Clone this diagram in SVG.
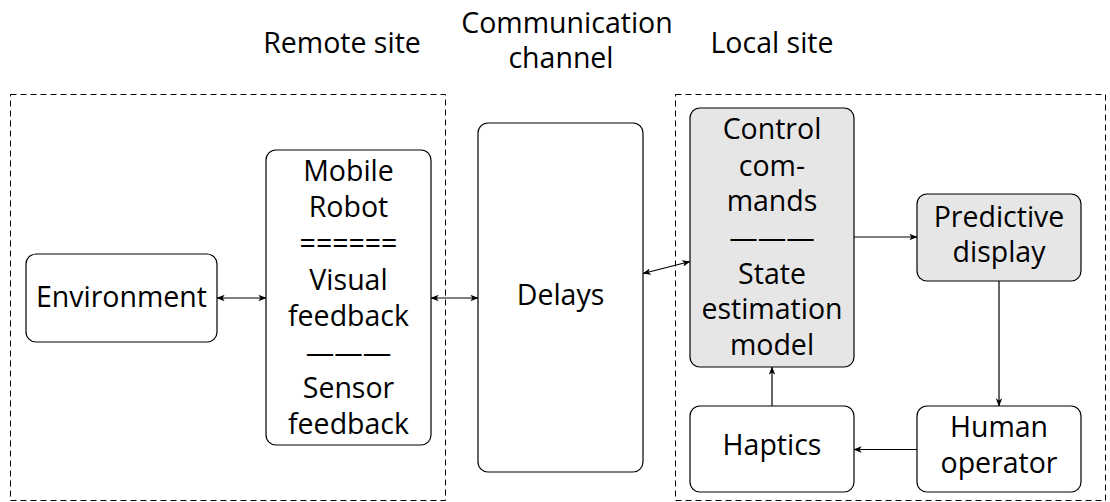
<svg xmlns="http://www.w3.org/2000/svg" width="1110" height="502" viewBox="0 0 1110 502">
  <style>
    text { font-family: "Open Sans", "Noto Sans", sans-serif; font-size: 28.5px; fill: #000; text-anchor: middle; }
    .site { fill: none; stroke: #000; stroke-width: 1; stroke-dasharray: 6 4; }
    .box { fill: #fff; stroke: #000; stroke-width: 1.2; }
    .grey { fill: #e6e6e6; }
    .edge { fill: none; stroke: #000; stroke-width: 1.2; }
  </style>
  <defs>
    <marker id="arr" viewBox="0 0 10 8" refX="9.5" refY="4" markerWidth="8" markerHeight="6.4" markerUnits="userSpaceOnUse" orient="auto-start-reverse">
      <path d="M0,0 L10,4 L0,8 L2.5,4 Z" fill="#000"/>
    </marker>
  </defs>

  <!-- region labels -->
  <g id="labels">
    <text x="342" y="53">Remote site</text>
    <text x="567" y="33">Communication</text>
    <text x="561" y="68">channel</text>
    <text x="772" y="53">Local site</text>
  </g>

  <!-- dashed site frames -->
  <rect class="site" x="10.5" y="94.5" width="435" height="406"/>
  <rect class="site" x="675.5" y="94.5" width="430" height="406"/>

  <g id="environment">
    <rect class="box" x="26" y="254" width="191" height="88" rx="10"/>
    <text x="121.5" y="307">Environment</text>
  </g>

  <g id="robot">
    <rect class="box" x="266" y="150" width="165" height="295" rx="10"/>
    <text x="348.5" y="181">Mobile</text>
    <text x="348.5" y="217">Robot</text>
    <text x="348.5" y="253">======</text>
    <text x="348.5" y="290">Visual</text>
    <text x="348.5" y="326">feedback</text>
    <text x="348.5" y="363">———</text>
    <text x="348.5" y="398">Sensor</text>
    <text x="348.5" y="434">feedback</text>
  </g>

  <g id="delays">
    <rect class="box" x="478" y="123" width="165" height="349" rx="10"/>
    <text x="560.5" y="305">Delays</text>
  </g>

  <g id="control">
    <rect class="box grey" x="690" y="108" width="164" height="259" rx="10"/>
    <text x="772" y="139">Control</text>
    <text x="772" y="176">com-</text>
    <text x="772" y="211">mands</text>
    <text x="772" y="248">———</text>
    <text x="772" y="284">State</text>
    <text x="772" y="319">estimation</text>
    <text x="772" y="355">model</text>
  </g>

  <g id="predictive">
    <rect class="box grey" x="917" y="194" width="164" height="87" rx="10"/>
    <text x="999" y="226.5">Predictive</text>
    <text x="999" y="262">display</text>
  </g>

  <g id="haptics">
    <rect class="box" x="690" y="406" width="164" height="86" rx="10"/>
    <text x="772" y="455">Haptics</text>
  </g>

  <g id="human">
    <rect class="box" x="917" y="406" width="164" height="86" rx="10"/>
    <text x="999" y="437">Human</text>
    <text x="999" y="473">operator</text>
  </g>

  <g id="connectors">
    <line class="edge" x1="217" y1="298" x2="266" y2="298" marker-start="url(#arr)" marker-end="url(#arr)"/>
    <line class="edge" x1="431" y1="298" x2="478" y2="298" marker-start="url(#arr)" marker-end="url(#arr)"/>
    <line class="edge" x1="643" y1="273.5" x2="690" y2="261.5" marker-start="url(#arr)" marker-end="url(#arr)"/>
    <line class="edge" x1="854" y1="237" x2="917" y2="237" marker-end="url(#arr)"/>
    <line class="edge" x1="999" y1="281" x2="999" y2="406" marker-end="url(#arr)"/>
    <line class="edge" x1="917" y1="449.5" x2="854" y2="449.5" marker-end="url(#arr)"/>
    <line class="edge" x1="772" y1="406" x2="772" y2="367" marker-end="url(#arr)"/>
  </g>
</svg>
